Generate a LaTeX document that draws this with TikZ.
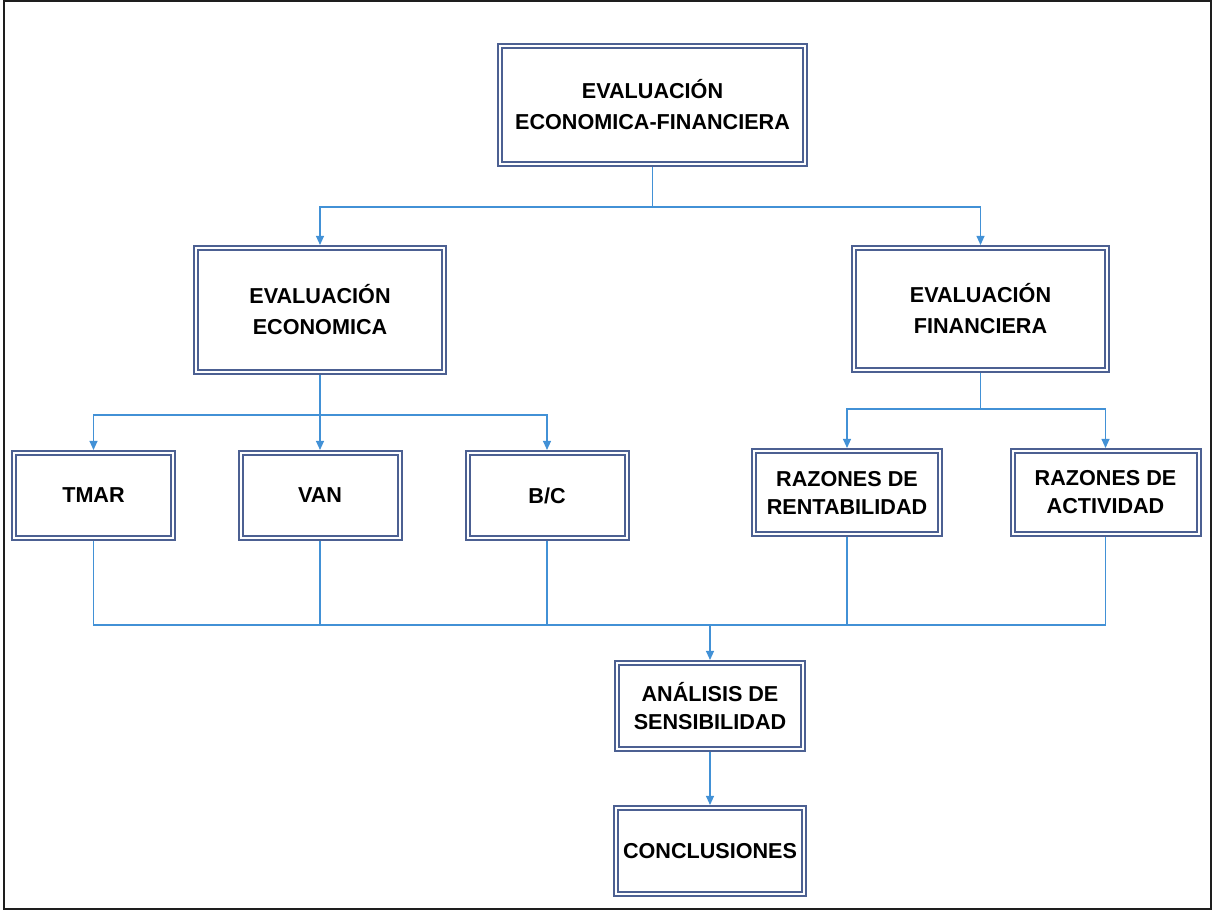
\documentclass[tikz,border=0pt]{standalone}
\usepackage{fontspec}
\setmainfont{Liberation Sans}
\definecolor{boxslate}{RGB}{76, 96, 146}
\definecolor{linkblue}{RGB}{66, 145, 214}
\definecolor{framegray}{RGB}{30, 30, 30}
\usepackage{tikz}
\usetikzlibrary{arrows.meta, positioning}

\tikzset{
  box/.style={draw=boxslate, double=white, double distance=1pt, line width=1pt,
    outer sep=1.5pt, inner sep=2pt, align=center,
    font=\bfseries\fontsize{10.8}{14}\selectfont},
  bigbox/.style={box, font=\bfseries\fontsize{10.8}{15.5}\selectfont},
  link/.style={draw=linkblue, line width=0.75pt},
  linkarrow/.style={link, -{Triangle[width=4pt, length=4.6pt]}}
}

\begin{document}
\begin{tikzpicture}[x=0.5pt, y=-0.5pt]
  % Page frame
  \useasboundingbox (0,0) rectangle (1213,911);
  \draw[framegray, line width=1pt] (4,1) rectangle (1211,909);

  % Top level
  \node[bigbox, minimum width=152.5pt, minimum height=59pt] (evalef) at (652.5,105) {EVALUACIÓN\\ECONOMICA-FINANCIERA};

  % Second level
  \node[bigbox, minimum width=124pt, minimum height=62pt] (evaleco) at (320,310) {EVALUACIÓN\\ECONOMICA};
  \node[bigbox, minimum width=126.5pt, minimum height=61pt] (evalfin) at (980.5,309) {EVALUACIÓN\\FINANCIERA};

  % Economic indicators
  \node[box, minimum width=79.5pt, minimum height=42.5pt] (tmar) at (93.5,495.5) {TMAR};
  \node[box, minimum width=79.5pt, minimum height=42.5pt] (van) at (320,495.5) {VAN};
  \node[box, minimum width=79.5pt, minimum height=42.5pt] (bc) at (547,495.5) {B/C};

  % Financial ratios
  \node[box, minimum width=93pt, minimum height=41.5pt] (rent) at (847,492.5) {RAZONES DE\\RENTABILIDAD};
  \node[box, minimum width=93pt, minimum height=41.5pt] (activ) at (1105.5,492.5) {RAZONES DE\\ACTIVIDAD};

  % Final steps
  \node[box, minimum width=93pt, minimum height=43pt] (sensib) at (710,706) {ANÁLISIS DE\\SENSIBILIDAD};
  \node[box, minimum width=94pt, minimum height=43pt] (concl) at (710,851) {CONCLUSIONES};

  % Branch points
  \coordinate (split1) at (652.5,207);
  \coordinate (split2) at (320,415);
  \coordinate (split3) at (980.5,409);
  \coordinate (merge) at (710,625);

  % Top split
  \draw[link] (evalef) -- (split1);
  \draw[linkarrow] (split1) -| (evaleco);
  \draw[linkarrow] (split1) -| (evalfin);

  % Economic split
  \draw[link] (evaleco) -- (split2);
  \draw[linkarrow] (split2) -| (tmar);
  \draw[linkarrow] (split2) -- (van);
  \draw[linkarrow] (split2) -| (bc);

  % Financial split
  \draw[link] (evalfin) -- (split3);
  \draw[linkarrow] (split3) -| (rent);
  \draw[linkarrow] (split3) -| (activ);

  % Merge into sensitivity analysis
  \foreach \src in {tmar, van, bc, rent, activ}
    \draw[link] (\src) |- (merge);
  \draw[linkarrow] (merge) -- (sensib);
  \draw[linkarrow] (sensib) -- (concl);
\end{tikzpicture}
\end{document}
